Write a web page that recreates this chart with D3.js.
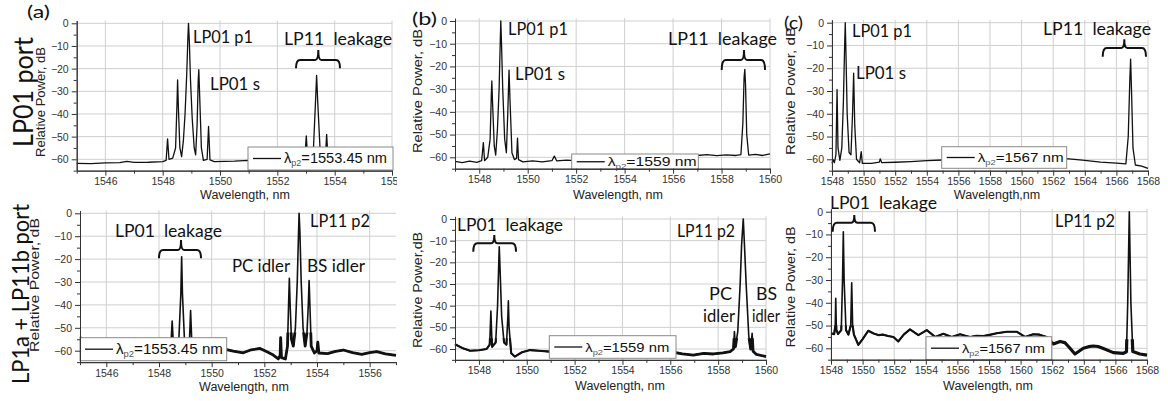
<!DOCTYPE html>
<html>
<head>
<meta charset="utf-8">
<script src="https://cdn.jsdelivr.net/npm/d3@7"></script>
<style>
body{margin:0;background:#fff}
svg{display:block}
</style>
</head>
<body>
<svg width="1168" height="401"></svg>
<script>
// spectra: [wavelength nm, relative power dB]
const specA1 = [[1545,-61.8],[1545.5,-61.9],[1546,-61.6],[1546.5,-61.5],[1546.75,-60.9],[1547,-61.4],[1547.5,-61.3],[1548,-61],[1548.12,-60.5],[1548.17,-51],[1548.22,-60],[1548.35,-59.5],[1548.45,-55],[1548.5,-35],[1548.52,-25],[1548.55,-38],[1548.6,-55],[1548.66,-58.8],[1548.72,-52],[1548.78,-40],[1548.84,-22],[1548.88,-6],[1548.9,0],[1548.93,-8],[1548.97,-25],[1549.03,-42],[1549.1,-55],[1549.15,-58],[1549.2,-45],[1549.24,-25],[1549.26,-20.5],[1549.29,-32],[1549.35,-55],[1549.42,-60.5],[1549.55,-60],[1549.6,-45.5],[1549.65,-60.3],[1549.8,-61],[1550.5,-60.8],[1551,-60.5],[1551.5,-60.7],[1552,-60.5],[1552.95,-60.4],[1553.01,-49.7],[1553.06,-60],[1553.25,-58],[1553.33,-35],[1553.37,-23],[1553.41,-35],[1553.5,-58],[1553.67,-60],[1553.72,-49],[1553.77,-60],[1554.5,-60.5],[1555,-60.6],[1556,-60.5]];

const specB1 = [[1547,-61.8],[1547.3,-62.3],[1547.6,-61.7],[1547.9,-62.2],[1548.1,-61.5],[1548.17,-53.5],[1548.22,-61.5],[1548.35,-60],[1548.45,-52],[1548.5,-32],[1548.52,-26.4],[1548.55,-36],[1548.62,-55],[1548.68,-59],[1548.75,-48],[1548.82,-30],[1548.87,-8],[1548.89,0],[1548.92,-10],[1548.97,-30],[1549.05,-52],[1549.12,-58],[1549.18,-40],[1549.23,-21.6],[1549.27,-35],[1549.35,-58],[1549.45,-61],[1549.54,-60.5],[1549.58,-51.6],[1549.62,-61],[1549.8,-62],[1550.2,-61.6],[1550.6,-62],[1551,-61.5],[1551.1,-59.5],[1551.2,-61.6],[1551.6,-61.2],[1552,-61.5],[1553,-61],[1554,-60.5],[1555,-60],[1556,-59.5],[1557,-59.2],[1557.4,-58.8],[1557.8,-59.3],[1558.2,-58.9],[1558.6,-59.2],[1558.8,-58.8],[1558.88,-45],[1558.93,-25],[1558.96,-21.3],[1558.99,-28],[1559.04,-50],[1559.12,-59],[1559.4,-58.7],[1559.7,-59.2],[1560,-58.5]];

const specC1 = [[1548,-61.7],[1548.08,-60.2],[1548.15,-61.5],[1548.25,-58],[1548.32,-29.3],[1548.38,-55],[1548.5,-60.5],[1548.62,-55],[1548.72,-35],[1548.8,-10],[1548.84,0],[1548.88,-12],[1548.96,-40],[1549.08,-57],[1549.2,-58],[1549.3,-40],[1549.37,-22.2],[1549.44,-45],[1549.55,-60],[1549.75,-61.5],[1549.85,-56.6],[1549.92,-61.8],[1550.5,-61.8],[1551,-61.2],[1551.05,-59.8],[1551.15,-61.5],[1552,-61.3],[1553,-61],[1554,-60.6],[1555,-60.3],[1556,-60],[1558,-59.5],[1560,-59],[1561,-59.2],[1562,-59.5],[1563,-59.8],[1564,-60.5],[1565,-61.2],[1566,-61.7],[1566.6,-62],[1566.75,-50],[1566.85,-25],[1566.9,-16],[1566.95,-28],[1567.05,-55],[1567.2,-62.5],[1567.6,-63],[1568,-64]];

const specA2 = [[1545,-53.8],[1545.2,-56],[1545.6,-58.5],[1546.5,-59.5],[1547.5,-60],[1548.3,-60],[1548.45,-58],[1548.5,-47],[1548.55,-58],[1548.75,-56],[1548.83,-35],[1548.86,-19],[1548.89,-35],[1548.97,-56],[1549.15,-58],[1549.2,-42.5],[1549.25,-58],[1549.6,-60],[1550.2,-60],[1550.57,-59.5],[1550.82,-60.2],[1551.2,-60.9],[1551.5,-59.6],[1551.84,-59],[1552.1,-60.5],[1552.34,-61.9],[1552.53,-63.6],[1552.6,-62],[1552.62,-54.3],[1552.65,-63],[1552.8,-63.6],[1552.88,-58],[1552.92,-40],[1552.95,-28.4],[1552.98,-40],[1553.03,-55],[1553.1,-58],[1553.18,-50],[1553.25,-30],[1553.3,-8],[1553.32,0],[1553.35,-8],[1553.4,-30],[1553.47,-50],[1553.55,-58],[1553.62,-52],[1553.67,-40],[1553.7,-29.4],[1553.73,-40],[1553.78,-58],[1553.9,-61],[1554,-60],[1554.03,-56.3],[1554.07,-61],[1554.4,-61.3],[1554.7,-60.3],[1555,-59.7],[1555.35,-60.8],[1555.7,-61.6],[1556,-60.8],[1556.27,-60.4],[1556.6,-61.4],[1557,-62]];

const specB2 = [[1547,-57.8],[1547.3,-59.5],[1547.63,-60.8],[1548,-60.6],[1548.32,-60],[1548.45,-58],[1548.5,-42.5],[1548.55,-59],[1548.7,-57],[1548.78,-40],[1548.83,-20],[1548.85,-12.8],[1548.88,-22],[1548.95,-45],[1549.05,-57],[1549.15,-58],[1549.21,-45],[1549.23,-37.8],[1549.26,-50],[1549.35,-62],[1549.5,-63.5],[1549.8,-61.5],[1550.14,-60.5],[1550.5,-60.8],[1550.97,-61.2],[1551.5,-61.5],[1552.5,-61.5],[1553.5,-62],[1554.5,-61.8],[1555.5,-62],[1556.13,-61.5],[1556.5,-62.2],[1556.96,-62.8],[1557.4,-62],[1557.8,-62.3],[1558.2,-61.8],[1558.5,-61.2],[1558.64,-60],[1558.68,-52],[1558.72,-59],[1558.82,-52],[1558.92,-30],[1558.98,-12],[1559.05,0],[1559.1,-12],[1559.17,-30],[1559.28,-54],[1559.36,-60],[1559.42,-52.8],[1559.46,-61],[1559.6,-62.5],[1559.8,-63],[1560,-63.5]];

const specC2 = [[1548,-53.4],[1548.2,-53.8],[1548.27,-50],[1548.3,-38],[1548.34,-52],[1548.45,-53.7],[1548.65,-52],[1548.73,-30],[1548.78,-8.8],[1548.83,-30],[1548.95,-52],[1549.1,-54],[1549.25,-50],[1549.31,-31.2],[1549.37,-50],[1549.45,-54],[1549.73,-58.5],[1550,-56],[1550.36,-52.3],[1550.7,-53.5],[1550.99,-54.2],[1551.3,-54],[1551.62,-54.6],[1551.95,-55],[1552.26,-57],[1552.6,-54],[1553,-51.7],[1553.53,-54.2],[1554.06,-52],[1554.59,-55],[1555.11,-53.6],[1555.64,-55],[1556.17,-53.8],[1556.5,-54.5],[1556.8,-55],[1557.2,-54.5],[1557.65,-54.6],[1558.1,-54],[1558.49,-53.4],[1559.13,-52.7],[1559.75,-52.7],[1560.28,-55],[1560.8,-53.8],[1561.2,-54],[1561.65,-55],[1562.07,-58.1],[1562.5,-57],[1562.8,-57.5],[1563.03,-59.2],[1563.44,-62.5],[1563.97,-60],[1564.3,-59.3],[1564.6,-59],[1564.9,-59.2],[1565.2,-60],[1565.87,-61.9],[1566.5,-62.2],[1566.7,-61.5],[1566.78,-40],[1566.88,0],[1566.98,-40],[1567.1,-61.4],[1567.55,-62.5],[1568,-63]];

// noisy stretches of the lower traces: [from nm, to nm, below dB, stroke]
const noiseA2 = [[1550.4, 1557.2, -52, 2.8]];
const noiseB2 = [[1546.9, 1551.5, -55, 2.1], [1555.5, 1560.2, -55, 2.8]];
const noiseC2 = [[1547.9, 1562, -50, 2.1], [1562, 1568.2, -56, 3.2]];

const pumpA = '1553.45', pumpB = '1559', pumpC = '1567';

const yMajor = [0, -10, -20, -30, -40, -50, -60];
const yMinor = [-5, -15, -25, -35, -45, -55, -65];

const svg = d3.select('svg');
const defs = svg.append('defs');

const panels = [
  {id:'a1', data:specA1, noise:[], wl:[1545,1556], px:[76.7,392], y0:23.3, y60:159.3, sw:1.3,
   lam:pumpA, leg:[248,147,145,23], legW:103, legFs:14,
   xTitle:'Wavelength, nm', xt:[245,199], yTitle:'Relative Power, dB', yt:[45,102,110], clipW:[0,397]},
  {id:'b1', data:specB1, noise:[], wl:[1547,1560], px:[455,770], y0:21, y60:157.3, sw:1.3,
   lam:pumpB, leg:[571.7,154,126.6,15.5], legW:89, legFs:13,
   xTitle:'Wavelength, nm', xt:[618,199], yTitle:'Relative Power, dB', yt:[421.7,91,124]},
  {id:'c1', data:specC1, noise:[], wl:[1548,1568], px:[832,1148], y0:22.7, y60:159.3, sw:1.3,
   lam:pumpC, leg:[941.7,146.7,125,21.6], legW:86, legFs:13,
   xTitle:'Wavelength,nm', xt:[997,199], yTitle:'Relative Power, dB', yt:[795,91,128]},
  {id:'a2', data:specA2, noise:noiseA2, wl:[1545,1557], px:[80,396], y0:213.3, y60:350.7, sw:1.6,
   lam:pumpA, leg:[80,337.7,146.7,23], legW:107, legFs:14,
   xTitle:'Wavelength, nm', xt:[244,391], yTitle:'Relative Power, dB', yt:[39,285,134], clipW:[0,400]},
  {id:'b2', data:specB2, noise:noiseB2, wl:[1547,1560], px:[455,766], y0:219, y60:349, sw:1.6,
   lam:pumpB, leg:[549.3,335.7,126.7,22.6], legW:84, legFs:13,
   xTitle:'Wavelength, nm', xt:[620,390], yTitle:'Relative Power,dB', yt:[422,290,116], clipW:[400,779]},
  {id:'c2', data:specC2, noise:noiseC2, wl:[1548,1568], px:[831,1147], y0:211.7, y60:348.3, sw:1.6,
   lam:pumpC, leg:[926,336.7,125.7,23], legW:83, legFs:13,
   xTitle:'Wavelength, nm', xt:[988,390], yTitle:'Relative Power, dB', yt:[795,287,121]}
];

// annotation texts (pixel layout)
const notes = [
  {t:'(a)', x:27, y:18, w:23},
  {t:'LP01 p1', x:193, y:43, w:60},
  {t:'LP01 s', x:210, y:90, w:50},
  {t:'LP11  leakage', x:284, y:45, w:108},
  {t:'(b)', x:412, y:25, w:25},
  {t:'LP01 p1', x:508, y:35, w:60},
  {t:'LP01 s', x:515, y:80, w:50},
  {t:'LP11  leakage', x:668, y:45, w:109},
  {t:'(c)', x:784, y:29, w:19},
  {t:'LP01 p1', x:852, y:37, w:60},
  {t:'LP01 s', x:856, y:79, w:50},
  {t:'LP11  leakage', x:1043, y:35, w:108},
  {t:'LP01  leakage', x:115, y:236.7, w:107},
  {t:'LP11 p2', x:310, y:226.7, w:60},
  {t:'PC idler', x:232, y:271.7, w:58},
  {t:'BS idler', x:307, y:271.7, w:58},
  {t:'LP01  leakage', x:457, y:231, w:106},
  {t:'LP11 p2', x:677, y:236.7, w:58},
  {t:'PC', x:709, y:300, w:23},
  {t:'idler', x:703, y:321.7, w:32},
  {t:'BS', x:756, y:300, w:21},
  {t:'idler', x:752, y:321.7, w:28},
  {t:'LP01  leakage', x:830, y:209.3, w:107},
  {t:'LP11 p2', x:1055, y:227.3, w:60}
];

// curly brackets: left x, centre x, right x, tips y, bar y, spike y
const braces = [
  [296, 318.3, 340, 68.3, 60, 50],
  [721.7, 744, 765, 70, 60, 50],
  [1102.7, 1124.3, 1146, 56.7, 48, 39.3],
  [159, 181, 201, 258.3, 250, 240],
  [473.3, 494.3, 516, 251.7, 243.3, 235],
  [832.7, 854.3, 875, 231.7, 222.7, 215]
];

panels.forEach(p => {
  const x = d3.scaleLinear().domain(p.wl).range(p.px);
  const k = (p.y60 - p.y0) / 60;
  const y = d3.scaleLinear().domain([-65, 1.2]).range([p.y0 + 65 * k, p.y0 - 1.2 * k]);

  const g = svg.append('g');
  if (p.clipW) {
    defs.append('clipPath').attr('id', 'pc' + p.id).append('rect')
      .attr('x', p.clipW[0]).attr('y', 0).attr('width', p.clipW[1] - p.clipW[0]).attr('height', 401);
    g.attr('clip-path', 'url(#pc' + p.id + ')');
  }

  const xMaj = d3.range(Math.ceil(p.wl[0] / 2) * 2, p.wl[1] + 0.01, 2);
  const xMin = d3.range(p.wl[0], p.wl[1] + 0.01, 1).filter(v => !xMaj.includes(v));

  // grid
  g.append('g').selectAll('line').data(xMaj).join('line')
    .attr('x1', d => x(d)).attr('x2', d => x(d))
    .attr('y1', y(-65)).attr('y2', y(1.2))
    .attr('stroke', '#cfcfcf').attr('stroke-width', 1);
  g.append('g').selectAll('line').data(yMajor).join('line')
    .attr('x1', p.px[0]).attr('x2', p.px[1])
    .attr('y1', d => y(d)).attr('y2', d => y(d))
    .attr('stroke', '#cfcfcf').attr('stroke-width', 1);

  // trace
  const line = d3.line().x(d => x(d[0])).y(d => y(d[1]));
  g.append('path').datum(p.data).attr('d', line)
    .attr('fill', 'none').attr('stroke', '#111').attr('stroke-width', p.sw)
    .attr('stroke-linejoin', 'round');

  p.noise.forEach((b, i) => {
    const cid = 'nz' + p.id + i;
    defs.append('clipPath').attr('id', cid).append('rect')
      .attr('x', x(b[0])).attr('width', x(b[1]) - x(b[0]))
      .attr('y', y(b[2])).attr('height', y(-72) - y(b[2]));
    g.append('path').datum(p.data).attr('d', line)
      .attr('clip-path', 'url(#' + cid + ')')
      .attr('fill', 'none').attr('stroke', '#111').attr('stroke-width', b[3])
      .attr('stroke-linejoin', 'round');
  });

  // legend
  const [lx, ly, lw, lh] = p.leg;
  const lg = g.append('g');
  lg.append('rect').attr('x', lx).attr('y', ly).attr('width', lw).attr('height', lh)
    .attr('fill', '#fff').attr('stroke', '#8a8a8a').attr('stroke-width', 1);
  lg.append('line').attr('x1', lx + 5).attr('x2', lx + 33)
    .attr('y1', ly + lh / 2).attr('y2', ly + lh / 2)
    .attr('stroke', '#111').attr('stroke-width', 1.3);
  const lt = lg.append('text').attr('x', lx + 36).attr('y', ly + lh / 2 + 4.5)
    .attr('font-family', 'Liberation Sans, Arial, sans-serif').attr('font-size', p.legFs)
    .attr('fill', '#111')
    .attr('textLength', p.legW).attr('lengthAdjust', 'spacingAndGlyphs');
  lt.append('tspan').text('λ');
  lt.append('tspan').attr('dy', 3).attr('font-size', p.legFs * 0.62).attr('fill', '#555').text('p2');
  lt.append('tspan').attr('dy', -3).text('=' + p.lam + ' nm');

  // axes
  const tickFont = sel => sel.selectAll('text')
    .attr('font-family', 'Liberation Sans, Arial, sans-serif')
    .attr('font-size', 10.5).attr('fill', '#333');

  const xa = g.append('g').attr('transform', `translate(0,${y(-65)})`)
    .call(d3.axisBottom(x).tickValues(xMaj).tickFormat(d3.format('d')).tickSize(5).tickSizeOuter(0).tickPadding(2));
  g.append('g').attr('transform', `translate(0,${y(-65)})`)
    .call(d3.axisBottom(x).tickValues(xMin).tickFormat('').tickSize(3).tickSizeOuter(0));
  const ya = g.append('g').attr('transform', `translate(${p.px[0]},0)`)
    .call(d3.axisLeft(y).tickValues(yMajor).tickFormat(d3.format('d')).tickSize(5).tickSizeOuter(0).tickPadding(3));
  g.append('g').attr('transform', `translate(${p.px[0]},0)`)
    .call(d3.axisLeft(y).tickValues(yMinor).tickFormat('').tickSize(3).tickSizeOuter(0));
  g.selectAll('.domain, .tick line').attr('stroke', '#333');
  tickFont(xa); tickFont(ya);

  // axis titles
  g.append('text').attr('x', p.xt[0]).attr('y', p.xt[1]).attr('text-anchor', 'middle')
    .attr('font-family', 'Liberation Sans, Arial, sans-serif').attr('font-size', 12.5)
    .attr('fill', '#222').text(p.xTitle);
  g.append('text').attr('transform', `translate(${p.yt[0]},${p.yt[1]}) rotate(-90)`)
    .attr('text-anchor', 'middle')
    .attr('font-family', 'Liberation Sans, Arial, sans-serif').attr('font-size', 12.5)
    .attr('fill', '#222').attr('textLength', p.yt[2]).attr('lengthAdjust', 'spacingAndGlyphs')
    .text(p.yTitle);
});

// row labels
[['LP01 port', 33, 92, 110, 26], ['LP1a + LP11b port', 29, 294, 180, 24]].forEach(r => {
  svg.append('text').attr('transform', `translate(${r[1]},${r[2]}) rotate(-90)`)
    .attr('text-anchor', 'middle').attr('font-family', 'Lato, "Open Sans", sans-serif')
    .attr('font-size', r[4]).attr('fill', '#111')
    .attr('textLength', r[3]).attr('lengthAdjust', 'spacingAndGlyphs').text(r[0]);
});

svg.append('g').selectAll('text').data(notes).join('text')
  .attr('x', d => d.x).attr('y', d => d.y)
  .attr('font-family', 'Lato, "Open Sans", sans-serif').attr('font-size', 17)
  .attr('fill', '#111').style('white-space', 'pre')
  .attr('textLength', d => d.w).attr('lengthAdjust', 'spacingAndGlyphs')
  .text(d => d.t);

svg.append('g').selectAll('path').data(braces).join('path')
  .attr('d', b => {
    const [xl, xc, xr, yb, ym, yt] = b;
    return `M${xl},${yb} Q${xl},${ym} ${xl + 4},${ym} L${xc - 3},${ym} Q${xc},${ym} ${xc},${yt}` +
      ` Q${xc},${ym} ${xc + 3},${ym} L${xr - 4},${ym} Q${xr},${ym} ${xr},${yb}`;
  })
  .attr('fill', 'none').attr('stroke', '#111').attr('stroke-width', 2);
</script>
</body>
</html>
